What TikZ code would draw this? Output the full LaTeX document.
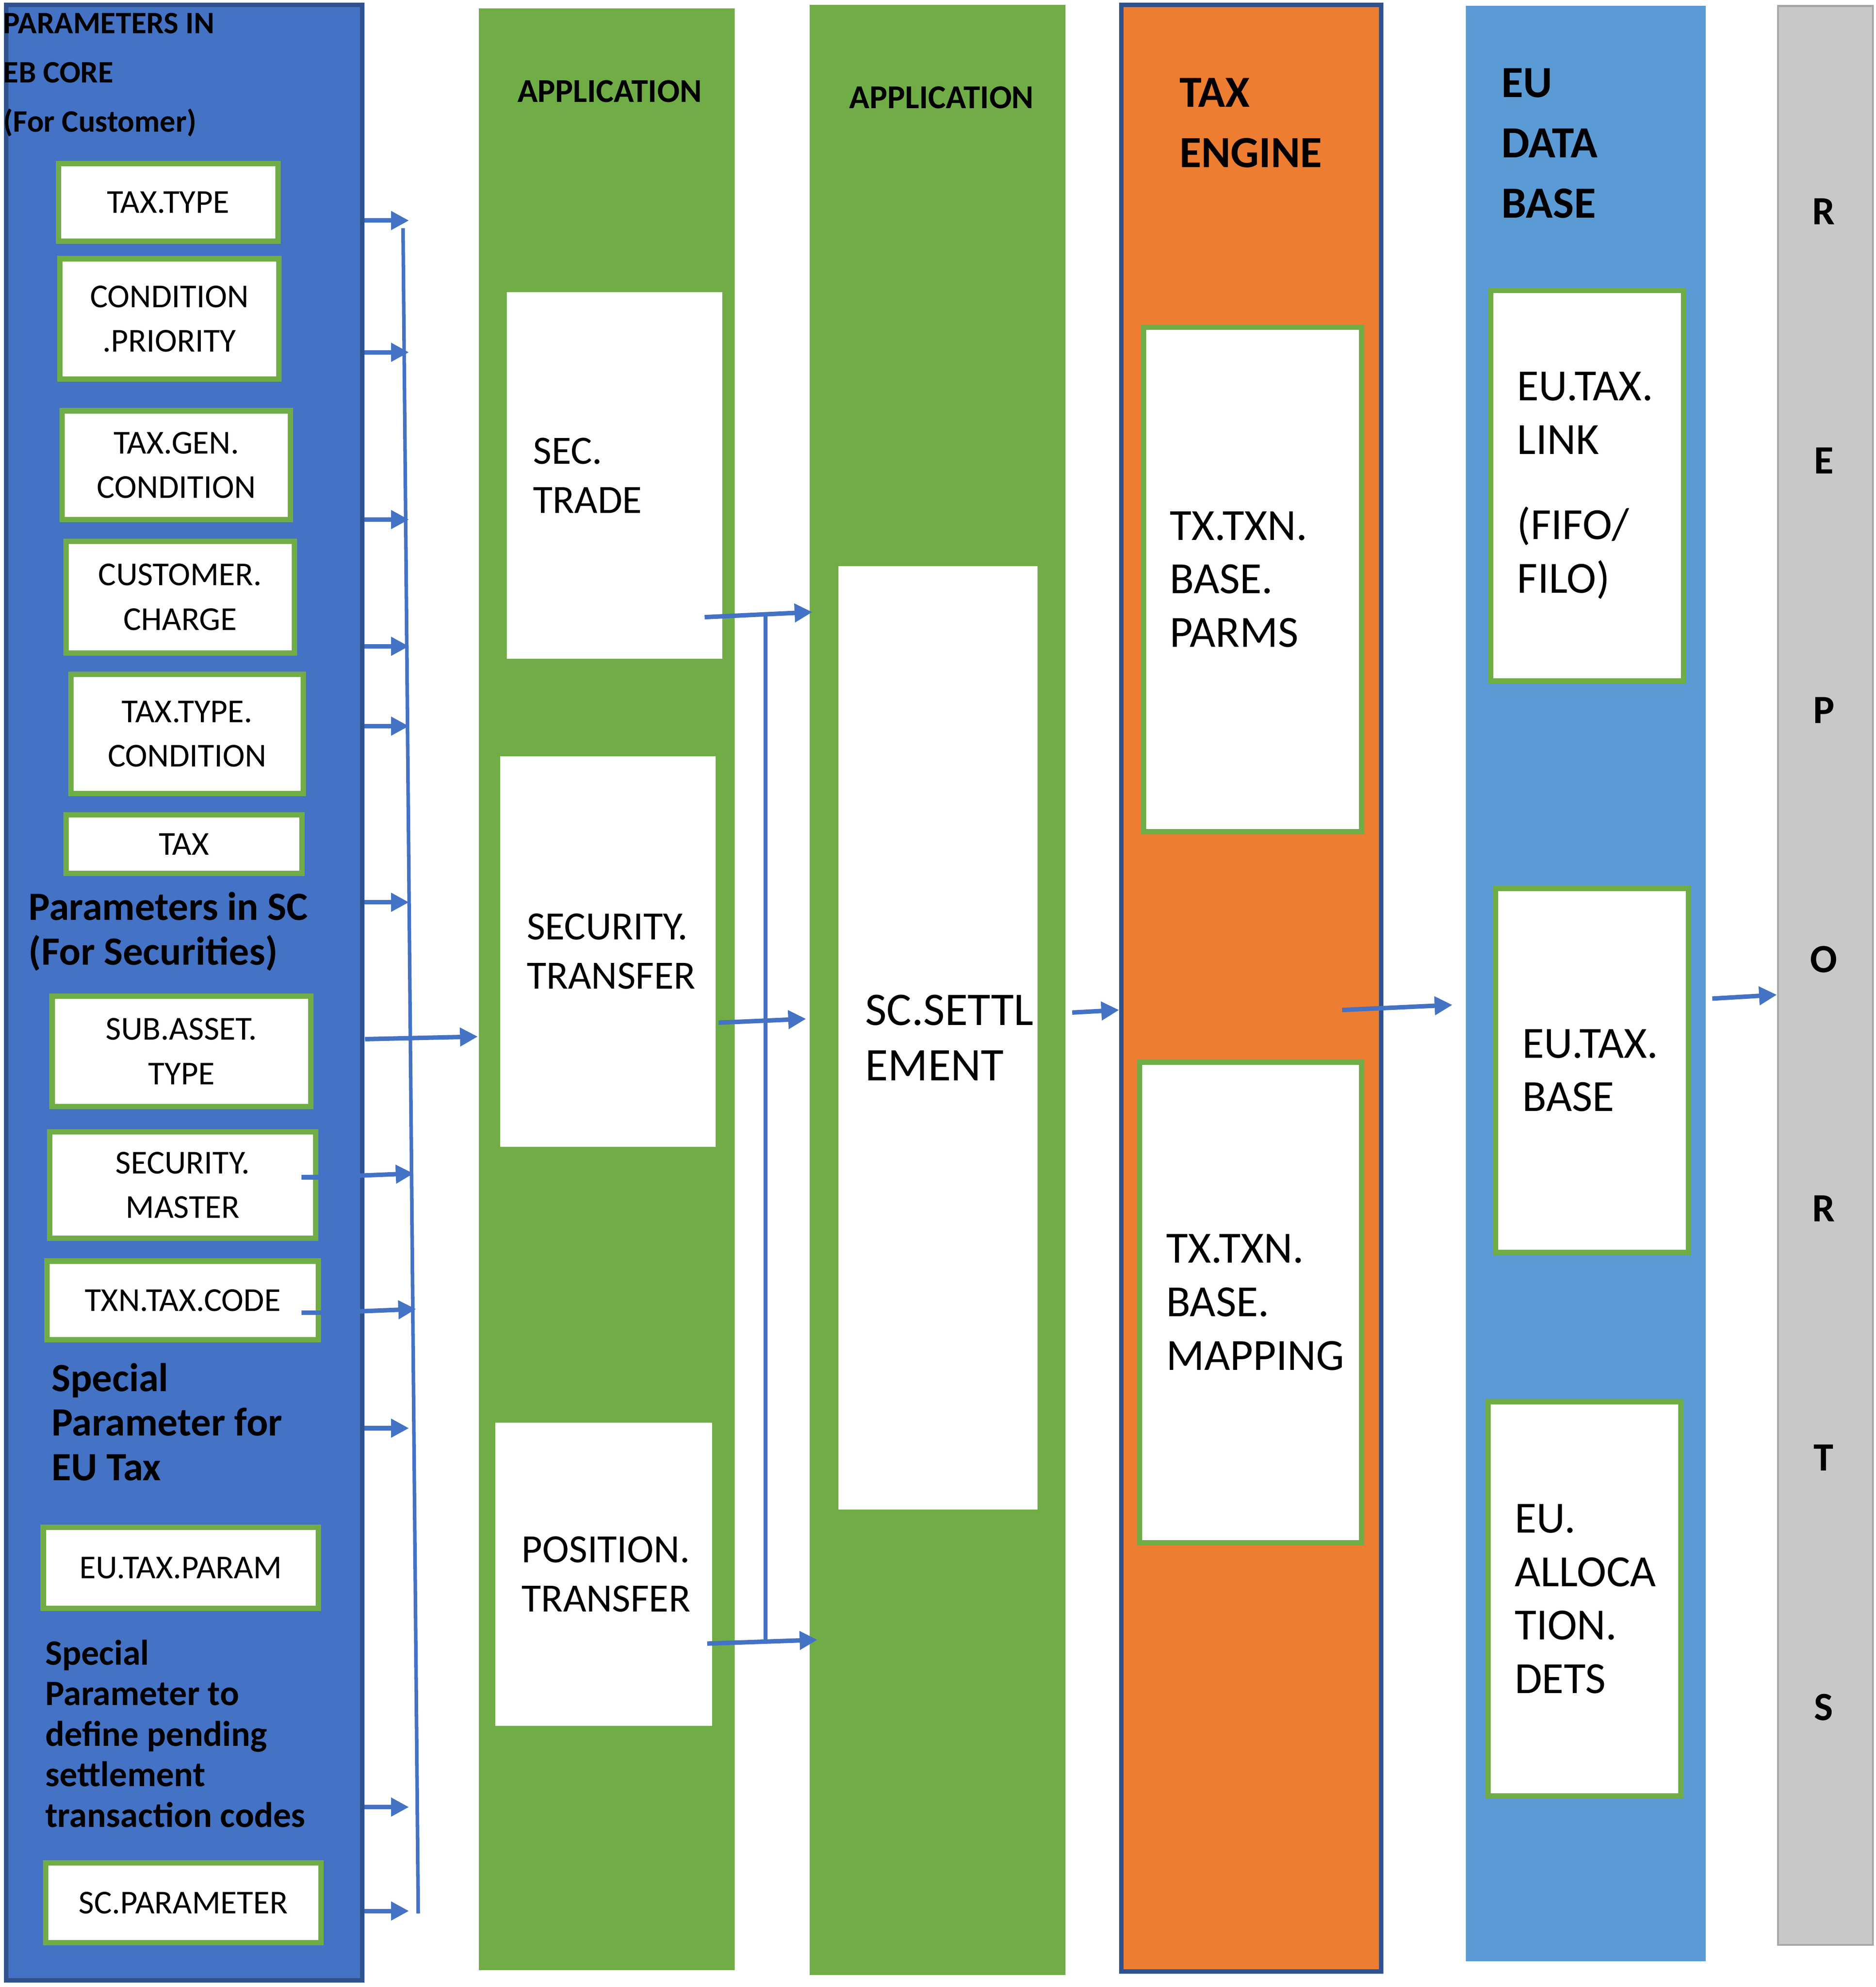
\documentclass[tikz,border=0pt]{standalone}
\usepackage{fontspec}
\setmainfont{Carlito}
\usetikzlibrary{arrows.meta,positioning}
\definecolor{colblue}{HTML}{4472C4}
\definecolor{colgreen}{HTML}{70AD47}
\definecolor{colorange}{HTML}{ED7D31}
\definecolor{collight}{HTML}{5B9BD5}
\definecolor{colgray}{HTML}{C8C8C8}
\definecolor{darkblue}{HTML}{2F528F}
\begin{document}
\begin{tikzpicture}[x=0.01cm, y=-0.01cm,
        column/.style={rectangle, anchor=north west, inner sep=0pt},
        parbox/.style={rectangle, anchor=north west, fill=white, draw=colgreen, line width=1.2pt, align=center, font=\fontsize{7.5}{10}\selectfont},
        bigbox/.style={rectangle, anchor=north west, fill=white, inner xsep=0.21cm, align=left, font=\fontsize{9}{11}\selectfont},
        header/.style={anchor=west, inner sep=0pt, font=\bfseries\fontsize{7.5}{11}\selectfont, align=left},
        arrow/.style={-{Triangle[length=4pt,width=4pt]}, colblue, line width=1pt}
    ]
        \useasboundingbox (0,0) rectangle (1480,1568);

        % Columns
        \node[column, fill=colblue, draw=darkblue, line width=1pt, minimum width=2.81cm, minimum height=15.58cm] (lcol) at (3,2) {};
        \node[column, fill=colgreen, minimum width=2.02cm, minimum height=15.47cm] (app1) at (377,6) {};
        \node[column, fill=colgreen, minimum width=2.02cm, minimum height=15.54cm] (app2) at (638,3) {};
        \node[column, fill=colorange, draw=darkblue, line width=1pt, minimum width=2.05cm, minimum height=15.51cm] (tax) at (883,2) {};
        \node[column, fill=collight, minimum width=1.89cm, minimum height=15.42cm] (eudb) at (1156,4) {};
        \node[column, fill=colgray, draw=gray!70, minimum width=0.75cm, minimum height=15.29cm] (rep) at (1402,4) {};

        % Left column texts
        \node[header, font=\bfseries\fontsize{7}{11}\selectfont] (hdrcore) at (2,59) {PARAMETERS IN\\EB CORE\\(For Customer)};
        \node[header, font=\bfseries\fontsize{9}{10}\selectfont] (hdrsc) at (22,735) {Parameters in SC\\(For Securities)};
        \node[header, font=\bfseries\fontsize{9}{10}\selectfont] (hdreu) at (40,1122) {Special\\Parameter for\\EU Tax};
        \node[header, font=\bfseries\fontsize{8}{9.1}\selectfont] (hdrpend) at (35,1368) {Special\\Parameter to\\define pending\\settlement\\transaction codes};

        % Parameter boxes
        \node[parbox, minimum width=1.73cm, minimum height=0.61cm] (taxtype) at (44,127) {TAX.TYPE};
        \node[parbox, minimum width=1.73cm, minimum height=0.95cm] (condprio) at (45,202) {CONDITION\\.PRIORITY};
        \node[parbox, minimum width=1.80cm, minimum height=0.86cm] (taxgen) at (47,322) {TAX.GEN.\\CONDITION};
        \node[parbox, minimum width=1.80cm, minimum height=0.88cm] (custchg) at (50,425) {CUSTOMER.\\CHARGE};
        \node[parbox, minimum width=1.83cm, minimum height=0.94cm] (ttcond) at (54,530) {TAX.TYPE.\\CONDITION};
        \node[parbox, minimum width=1.86cm, minimum height=0.46cm] (taxbox) at (50,641) {TAX};
        \node[parbox, minimum width=2.04cm, minimum height=0.87cm] (subasset) at (39,784) {SUB.ASSET.\\TYPE};
        \node[parbox, minimum width=2.10cm, minimum height=0.84cm] (secmaster) at (37,891) {SECURITY.\\MASTER};
        \node[parbox, minimum width=2.14cm, minimum height=0.62cm] (txncode) at (35,993) {TXN.TAX.CODE};
        \node[parbox, minimum width=2.17cm, minimum height=0.64cm] (eutaxparam) at (32,1203) {EU.TAX.PARAM};
        \node[parbox, minimum width=2.17cm, minimum height=0.63cm] (scparam) at (34,1468) {SC.PARAMETER};

        % Application columns
        \node[header, anchor=center] (hdrapp1) at (481,72) {APPLICATION};
        \node[header, anchor=center] (hdrapp2) at (743,77) {APPLICATION};
        \node[bigbox, minimum width=1.70cm, minimum height=2.89cm, text width=1.28cm] (sectrade) at (399,230) {SEC.\\TRADE\\[0.2cm]};
        \node[bigbox, minimum width=1.70cm, minimum height=3.08cm, text width=1.28cm] (sectransfer) at (394,596) {SECURITY.\\TRANSFER\\[0.2cm]};
        \node[bigbox, minimum width=1.71cm, minimum height=2.39cm, text width=1.29cm] (postransfer) at (390,1122) {POSITION.\\TRANSFER\\[0.2cm]};
        \node[bigbox, minimum width=1.57cm, minimum height=7.44cm, text width=1.15cm, font=\fontsize{10.5}{12.5}\selectfont] (scsettl) at (661,446) {SC.SETTL\\EMENT\\[0.2cm]};

        % Tax engine
        \node[header, font=\bfseries\fontsize{10}{13.5}\selectfont] (hdrtax) at (930,97) {TAX\\ENGINE};
        \node[bigbox, draw=colgreen, line width=1.2pt, minimum width=1.72cm, minimum height=3.98cm, text width=1.30cm, font=\fontsize{10}{12}\selectfont] (parms) at (900,256) {TX.TXN.\\BASE.\\PARMS\\[0.25cm]};
        \node[bigbox, draw=colgreen, line width=1.2pt, minimum width=1.75cm, minimum height=3.79cm, text width=1.33cm, font=\fontsize{10}{12}\selectfont] (mapping) at (897,836) {TX.TXN.\\BASE.\\MAPPING\\[0.25cm]};

        % EU data base
        \node[header, font=\bfseries\fontsize{10}{13.5}\selectfont] (hdreudb) at (1184,113) {EU\\DATA\\BASE};
        \node[bigbox, draw=colgreen, line width=1.2pt, minimum width=1.52cm, minimum height=3.08cm, text width=1.10cm, font=\fontsize{10}{12}\selectfont] (eulink) at (1174,227) {EU.TAX.\\LINK\\[0.25cm](FIFO/\\FILO)\\[0.25cm]};
        \node[bigbox, draw=colgreen, line width=1.2pt, minimum width=1.52cm, minimum height=2.87cm, text width=1.10cm, font=\fontsize{10}{12}\selectfont] (eubase) at (1178,699) {EU.TAX.\\BASE\\[0.25cm]};
        \node[bigbox, draw=colgreen, line width=1.2pt, minimum width=1.52cm, minimum height=3.11cm, text width=1.10cm, font=\fontsize{10}{12}\selectfont] (eualloc) at (1172,1104) {EU.\\ALLOCA\\TION.\\DETS\\[0.25cm]};

        % Reports letters
        \foreach \letter [count=\i from 0] in {R,E,P,O,R,T,S}
            \node[font=\bfseries\fontsize{9}{9}\selectfont] (rep\i) at (1439,167+196.7*\i) {\letter};

        % Arrows out of the left column
        \foreach \y in {174,278,410,510,573,712,1127,1426,1508}
            \draw[arrow] (lcol.east |- 0,\y) -- ++(35,0);
        \draw[colblue, line width=1pt] (238,929) -- (secmaster.east |- 0,929);
        \draw[colblue, line width=1pt] (238,1036) -- (txncode.east |- 0,1036);
        \draw[arrow] (secmaster.east |- 0,929) -- ++(75,-3);
        \draw[arrow] (txncode.east |- 0,1036) -- ++(75,-3);
        \draw[colblue, line width=0.8pt] (318,180) -- (330,1510);
        \draw[arrow] (288,820) -- (app1.west |- 0,818);

        % Arrows into SC.SETTLEMENT
        \draw[arrow] (556,487) -- (641,483);
        \draw[arrow] (567,807) -- (636,804);
        \draw[arrow] (558,1297) -- (645,1294);
        \draw[colblue, line width=0.8pt] (604,484) -- (604,1296);

        % Arrows to the right
        \draw[arrow] (846,799) -- (tax.west |- 0,797);
        \draw[arrow] (1059,797) -- (1146,793);
        \draw[arrow] (1351,788) -- (rep.west |- 0,785);
    \end{tikzpicture}
\end{document}
